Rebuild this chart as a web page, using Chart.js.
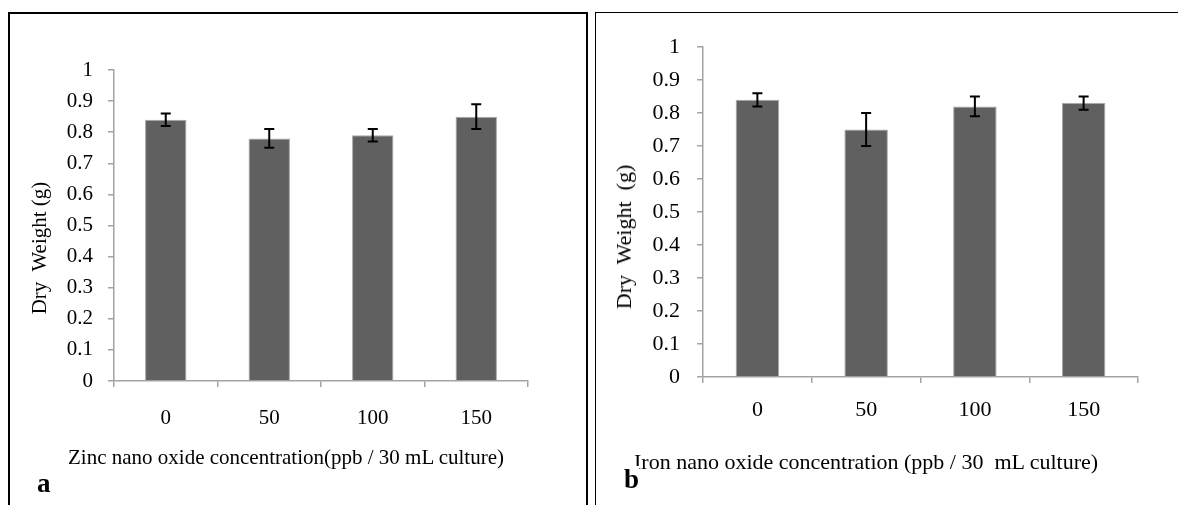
<!DOCTYPE html>
<html>
<head>
<meta charset="utf-8">
<script src="https://cdn.jsdelivr.net/npm/chart.js@4.4.0/dist/chart.umd.min.js"></script>
<style>
  body { margin: 0; width: 1178px; height: 505px; background: #fff; overflow: hidden; position: relative; font-family: "Liberation Serif", "Times New Roman", serif; }
  .panel { position: absolute; box-sizing: border-box; border: solid #000; }
  #panelA { left: 8px; top: 12px; width: 580px; height: 520px; border-width: 2px; }
  #panelB { left: 595px; top: 12px; width: 620px; height: 520px; border-width: 1px; }
  .wrap { position: absolute; }
  .txt { position: absolute; white-space: pre; color: #000; line-height: 1; }
  .ylab { transform: translate(-50%, -50%) rotate(-90deg); }
  .tag { font-weight: bold; font-size: 27px; background: #fff; z-index: 2; }
</style>
</head>
<body>
<div class="panel" id="panelA"></div>
<div class="panel" id="panelB"></div>

<div class="wrap" style="left:10px; top:14px; width:574px; height:491px;"><canvas id="chartA"></canvas></div>
<div class="wrap" style="left:598px; top:14px; width:580px; height:491px;"><canvas id="chartB"></canvas></div>

<div class="txt ylab" style="left:39px; top:248px; font-size:21px;">Dry  Weight (g)</div>
<div class="txt ylab" style="left:624px; top:237px; font-size:22px;">Dry  Weight  (g)</div>
<div class="txt" style="left:68px; top:447px; font-size:21px;">Zinc nano oxide concentration(ppb / 30 mL culture)</div>
<div class="txt" style="left:634px; top:451px; font-size:22px;">Iron nano oxide concentration (ppb / 30  mL culture)</div>
<div class="txt tag" style="left:37px; top:470px;">a</div>
<div class="txt tag" style="left:624px; top:466px;">b</div>

<script>
// categories (ppb / 30 mL culture)
const concentrations = ['0', '50', '100', '150'];
const yTickLabels = ['0', '0.1', '0.2', '0.3', '0.4', '0.5', '0.6', '0.7', '0.8', '0.9', '1'];

// a: zinc nano oxide
const zincDryWeight = [0.84, 0.78, 0.79, 0.85];
const zincError = [0.02, 0.03, 0.02, 0.04];

// b: iron nano oxide
const ironDryWeight = [0.84, 0.75, 0.82, 0.83];
const ironError = [0.02, 0.05, 0.03, 0.02];

const axisGray = '#a3a3a3';

// draws the +/- error whiskers on each bar
const errorBars = {
    id: 'errorBars',
    afterDatasetsDraw(chart, args, opts) {
        const ctx = chart.ctx;
        const yScale = chart.scales.y;
        const values = chart.data.datasets[0].data;
        const bars = chart.getDatasetMeta(0).data;
        ctx.save();
        ctx.strokeStyle = '#000';
        ctx.lineWidth = 2;
        bars.forEach((bar, i) => {
            const top = yScale.getPixelForValue(values[i] + opts.errors[i]);
            const bottom = yScale.getPixelForValue(values[i] - opts.errors[i]);
            ctx.beginPath();
            ctx.moveTo(bar.x, top);
            ctx.lineTo(bar.x, bottom);
            ctx.moveTo(bar.x - 5, top);
            ctx.lineTo(bar.x + 5, top);
            ctx.moveTo(bar.x - 5, bottom);
            ctx.lineTo(bar.x + 5, bottom);
            ctx.stroke();
        });
        ctx.restore();
    }
};

function makeChart(id, values, errors, s) {
    return new Chart(document.getElementById(id), {
        type: 'bar',
        data: {
            labels: concentrations,
            datasets: [{
                data: values,
                backgroundColor: '#606060',
                borderColor: '#a8a8a8',
                borderWidth: 1,
                barPercentage: 0.4,
                categoryPercentage: 1
            }]
        },
        options: {
            responsive: true,
            maintainAspectRatio: false,
            animation: false,
            layout: { padding: { left: 0, top: s.top, right: s.right, bottom: s.bottom } },
            plugins: {
                legend: { display: false },
                tooltip: { enabled: false },
                errorBars: { errors: errors }
            },
            scales: {
                x: {
                    afterFit: scale => { scale.height = 60; },
                    grid: { offset: true, drawOnChartArea: false, drawTicks: true, tickLength: 6, color: axisGray, lineWidth: 1.5 },
                    border: { color: axisGray, width: 1.5 },
                    ticks: { color: '#000', padding: s.xPad, font: { family: 'Liberation Serif', size: s.font } }
                },
                y: {
                    min: 0,
                    max: 1,
                    afterFit: scale => { scale.width = s.yWidth; },
                    grid: { drawOnChartArea: false, drawTicks: true, tickLength: 6, color: axisGray, lineWidth: 1.5 },
                    border: { color: axisGray, width: 1.5 },
                    ticks: {
                        stepSize: 0.1,
                        color: '#000',
                        padding: s.yPad,
                        font: { family: 'Liberation Serif', size: s.font },
                        callback: (v, i) => yTickLabels[i]
                    }
                }
            }
        },
        plugins: [errorBars]
    });
}

makeChart('chartA', zincDryWeight, zincError, { top: 56, right: 56, bottom: 64, yWidth: 104, xPad: 19, yPad: 15, font: 21 });
makeChart('chartB', ironDryWeight, ironError, { top: 33, right: 40, bottom: 68, yWidth: 105, xPad: 14, yPad: 17, font: 22 });
</script>
</body>
</html>
